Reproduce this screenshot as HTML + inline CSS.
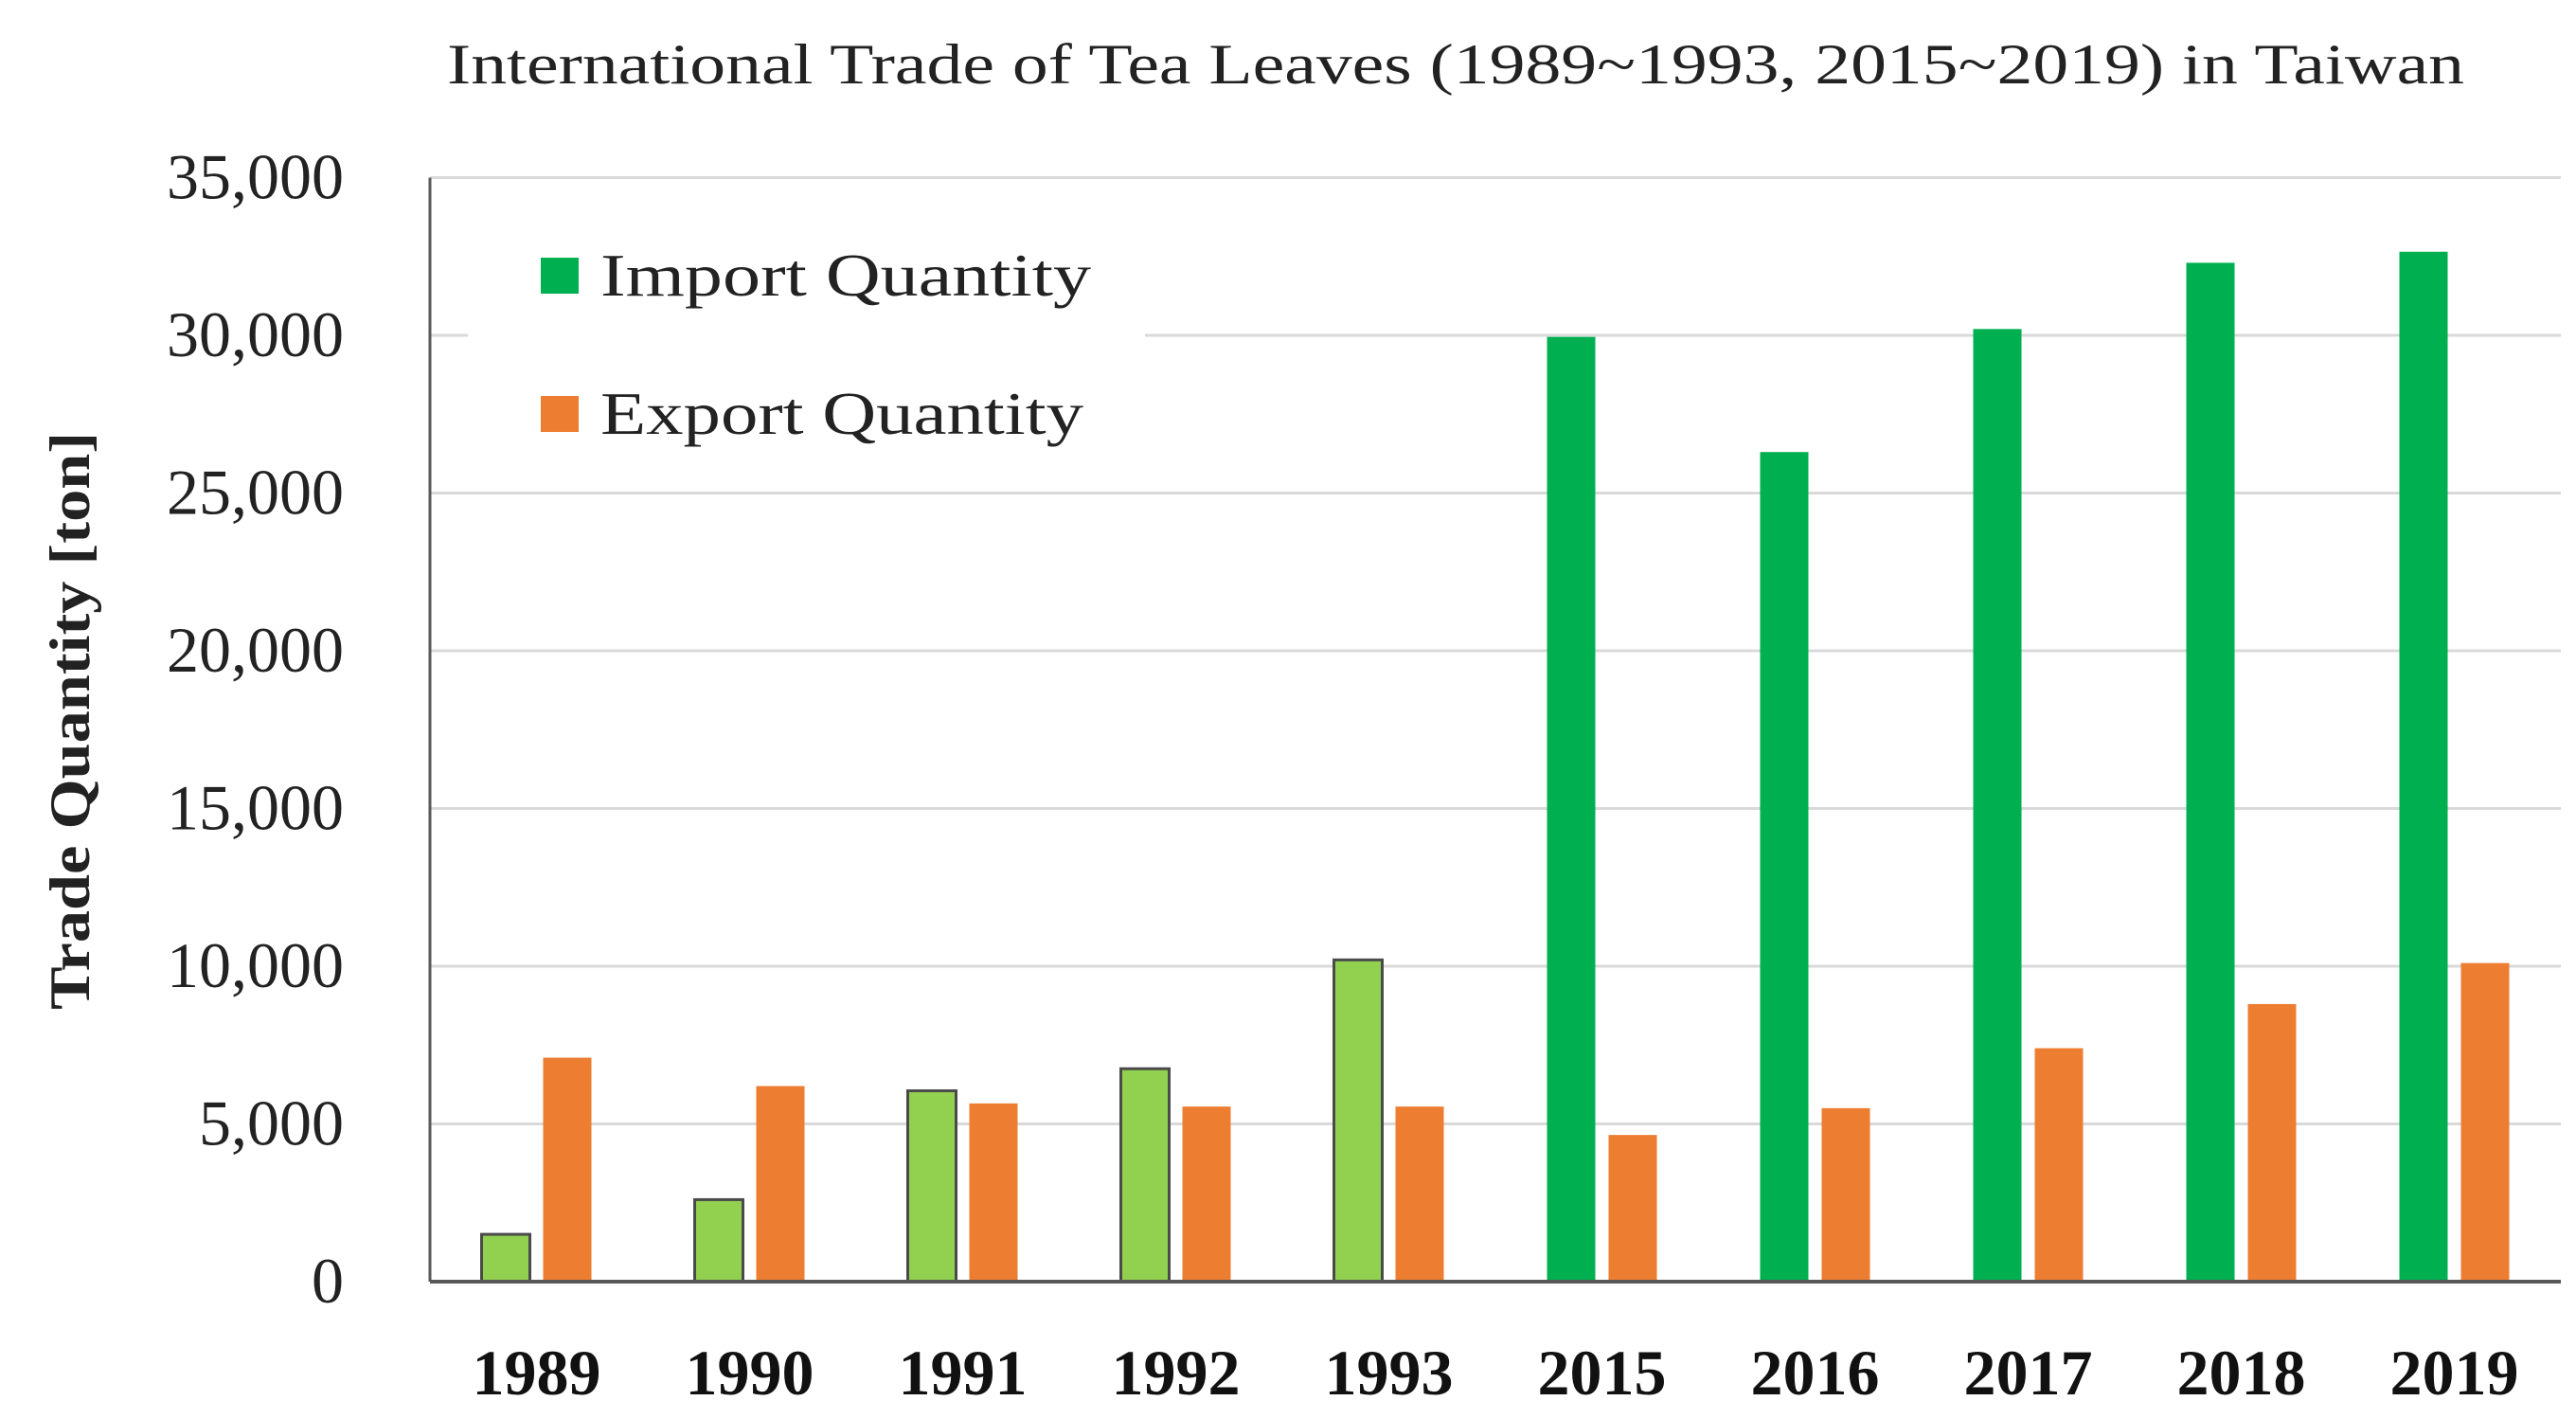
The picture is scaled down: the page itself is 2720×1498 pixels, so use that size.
<!DOCTYPE html>
<html><head><meta charset="utf-8"><style>
html,body{margin:0;padding:0;background:#fff;}
svg{display:block;}
</style></head><body>
<svg id="chart" width="2720" height="1498" xmlns="http://www.w3.org/2000/svg">
<text x="1537" y="88" text-anchor="middle" font-family="Liberation Serif, serif" font-size="60" fill="#222" textLength="2130" lengthAdjust="spacingAndGlyphs">International Trade of Tea Leaves (1989~1993, 2015~2019) in Taiwan</text>
<text transform="translate(94,761) rotate(-90)" text-anchor="middle" font-family="Liberation Serif, serif" font-weight="bold" font-size="60" fill="#222" textLength="610" lengthAdjust="spacingAndGlyphs">Trade Quantity [ton]</text>
<g id="grid"></g>
<g id="bars"></g>
<g id="xlabels"></g>
<rect x="494" y="240" width="715" height="240" fill="#fff"/>
<g>
<rect x="571" y="272" width="40" height="38" fill="#00b050"/>
<text x="634" y="312" font-family="Liberation Serif, serif" font-size="64" fill="#222" textLength="518" lengthAdjust="spacingAndGlyphs">Import Quantity</text>
<rect x="571" y="418" width="40" height="38" fill="#ed7d31"/>
<text x="634" y="458" font-family="Liberation Serif, serif" font-size="64" fill="#222" textLength="510" lengthAdjust="spacingAndGlyphs">Export Quantity</text>
</g>
</svg>
<script>
const categories = ["1989","1990","1991","1992","1993","2015","2016","2017","2018","2019"];
const importValues = [1500,2600,6050,6750,10200,29950,26300,30200,32300,32650];
const exportValues = [7100,6200,5650,5550,5550,4650,5500,7400,8800,10100];
const yTicks = [0,5000,10000,15000,20000,25000,30000,35000];
const tickLabels = ["0","5,000","10,000","15,000","20,000","25,000","30,000","35,000"];

const NS = "http://www.w3.org/2000/svg";
const X0 = 454, X1 = 2704, Y0 = 1353, YTOP = 187.5, YMAX = 35000;
const band = (X1 - X0) / categories.length;
function yScale(v){ return Y0 - (v / YMAX) * (Y0 - YTOP); }
function xCenter(i){ return X0 + band * (i + 0.5); }
function mk(tag, attrs){ const e = document.createElementNS(NS, tag); for (const k in attrs) e.setAttribute(k, attrs[k]); return e; }

const grid = document.getElementById('grid');
yTicks.forEach((t, i) => {
  const y = yScale(t);
  if (t > 0) {
    const l = mk('line', {x1: X0, x2: X1, y1: y, y2: y, stroke: '#d9d9d9', 'stroke-width': 3});
    
    
    grid.appendChild(l);
  }
  const tx = mk('text', {x: 363, y: y + 22, 'text-anchor': 'end', 'font-family': 'Liberation Serif, serif', 'font-size': 68, fill: '#222'});
  tx.textContent = tickLabels[i];
  
  
  grid.appendChild(tx);
});
const ya = mk('line', {x1: X0, x2: X0, y1: YTOP, y2: Y0, stroke: '#595959', 'stroke-width': 3});


grid.appendChild(ya);

const bars = document.getElementById('bars');
const bw = 51;
categories.forEach((c, i) => {
  const cx = xCenter(i);
  const old = i < 5;
  const yi = yScale(importValues[i]);
  const ri = mk('rect', {x: cx - 7 - bw, y: yi, width: bw, height: Y0 - yi, fill: old ? '#92d050' : '#00b050'});
  if (old) { ri.setAttribute('stroke', '#4a4a4a'); ri.setAttribute('stroke-width', 3); }
  
  
  bars.appendChild(ri);
  const ye = yScale(exportValues[i]);
  const re = mk('rect', {x: cx + 7, y: ye, width: bw, height: Y0 - ye, fill: '#ed7d31'});
  
  
  bars.appendChild(re);
  const lb = mk('text', {x: cx, y: 1472, 'text-anchor': 'middle', 'font-family': 'Liberation Serif, serif', 'font-weight': 'bold', 'font-size': 68, fill: '#111'});
  lb.textContent = c;
  
  
  document.getElementById('xlabels').appendChild(lb);
});
const xa = mk('line', {x1: X0, x2: X1, y1: Y0, y2: Y0, stroke: '#595959', 'stroke-width': 4});


bars.appendChild(xa);
</script>
</body></html>
